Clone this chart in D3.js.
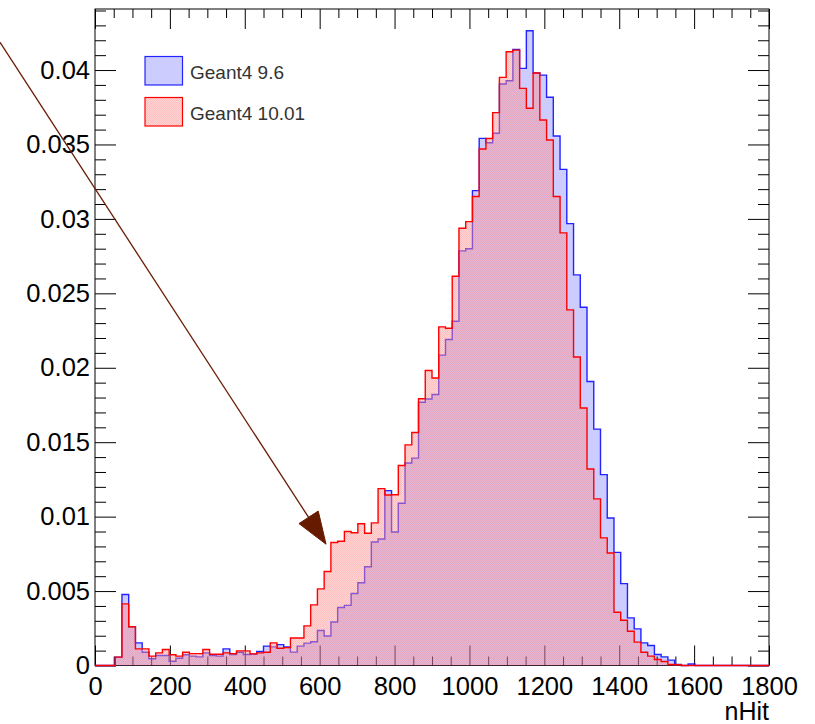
<!DOCTYPE html>
<html>
<head>
<meta charset="utf-8">
<script src="https://cdn.jsdelivr.net/npm/d3@7"></script>
<style>
  body { margin: 0; background: #fff; }
  text { font-family: "Liberation Sans", Arial, Helvetica, sans-serif; }
</style>
</head>
<body>
<svg id="chart"></svg>
<script>
// nHit histograms, 100 bins of width 18 from 0 to 1800 (normalised)
const binCount = 100
const xMin = 0
const xMax = 1800

const g4_96 = [
  0, 0, 0, 0.00056, 0.00477, 0.0026, 0.00152, 0.00089, 0.00045, 0.00067,
  0.00067, 0.00029, 0.00049, 0.00072, 0.00063, 0.00058, 0.00085, 0.00067, 0.00063, 0.00112,
  0.00074, 0.00089, 0.00074, 0.00076, 0.00094, 0.0013, 0.00125, 0.0014, 0.00125, 0.0009,
  0.0013, 0.0015, 0.0016, 0.00235, 0.00198, 0.00292, 0.0039, 0.00404, 0.00484, 0.00556,
  0.00663, 0.0083, 0.0085, 0.01175, 0.00897, 0.0109, 0.0136, 0.01393, 0.01768, 0.0179,
  0.0182, 0.02085, 0.0219, 0.02312, 0.02785, 0.028, 0.0319, 0.03541, 0.03512, 0.03575,
  0.03906, 0.03928, 0.04139, 0.04011, 0.04264, 0.0398, 0.03966, 0.03817, 0.03557, 0.03333,
  0.02968, 0.02624, 0.02407, 0.01908, 0.01588, 0.01282, 0.00991, 0.0076, 0.0055, 0.0032,
  0.00246, 0.00152, 0.00134, 0.00074, 0.00058, 0.00036, 0.00007, 0, 0.0001, 0,
  0, 0, 0, 0, 0, 0, 0, 0, 0, 0
]

const g4_1001 = [
  0, 0, 0, 0.00056, 0.00414, 0.0026, 0.00112, 0.00112, 0.00063, 0.00085,
  0.00107, 0.00072, 0.00063, 0.00089, 0.0008, 0.0008, 0.00107, 0.00076, 0.00076, 0.00085,
  0.0008, 0.00098, 0.00098, 0.00078, 0.00085, 0.00089, 0.00152, 0.00116, 0.0012, 0.00185,
  0.00185, 0.00266, 0.00407, 0.00515, 0.00631, 0.00826, 0.00835, 0.009, 0.00892, 0.00952,
  0.00888, 0.00958, 0.01188, 0.01145, 0.01147, 0.01343, 0.01482, 0.01565, 0.01792, 0.01982,
  0.01931, 0.02275, 0.02265, 0.02615, 0.02937, 0.02982, 0.0315, 0.0347, 0.0354, 0.03714,
  0.03951, 0.04123, 0.04134, 0.03877, 0.03743, 0.0398, 0.03664, 0.0353, 0.0315, 0.02906,
  0.02389, 0.02072, 0.0173, 0.0132, 0.01119, 0.00857, 0.00756, 0.00358, 0.00304, 0.0023,
  0.00157, 0.00089, 0.00063, 0.0004, 0.00027, 0.00007, 0.00005, 0, 0, 0,
  0, 0, 0, 0, 0, 0, 0, 0, 0, 0
]

const legendLabels = ['Geant4 9.6', 'Geant4 10.01']
const xTickLabels = [0, 200, 400, 600, 800, 1000, 1200, 1400, 1600, 1800]
const yTickLabels = [0, 0.005, 0.01, 0.015, 0.02, 0.025, 0.03, 0.035, 0.04]
const xTitle = 'nHit'

// arrow annotation, in data coordinates (nHit, y)
const arrowFrom = [-254, 0.04187]
const arrowTo = [617, 0.00815]

const WIDTH = 815
const HEIGHT = 724
const LEFT = 95
const RIGHT = 769
const TOP = 9
const BOTTOM = 665.5
const YMAX = 0.0441
const FONT = '"Liberation Sans", Arial, Helvetica, sans-serif'

const x = d3.scaleLinear().domain([xMin, xMax]).range([LEFT, RIGHT])
const y = d3.scaleLinear().domain([0, YMAX]).range([BOTTOM, TOP])

const svg = d3.select('#chart')
  .attr('width', WIDTH)
  .attr('height', HEIGHT)

// dithered fill like ROOT's pattern fill
const defs = svg.append('defs')
const pat = defs.append('pattern')
  .attr('id', 'dither')
  .attr('patternUnits', 'userSpaceOnUse')
  .attr('width', 2).attr('height', 2)
pat.append('rect').attr('width', 2).attr('height', 2).attr('fill', 'rgba(255,150,150,0.40)')
pat.append('rect').attr('x', 0).attr('y', 0).attr('width', 1).attr('height', 1).attr('fill', 'rgba(255,120,120,0.25)')
pat.append('rect').attr('x', 1).attr('y', 1).attr('width', 1).attr('height', 1).attr('fill', 'rgba(255,120,120,0.25)')

svg.append('rect').attr('width', WIDTH).attr('height', HEIGHT).attr('fill', '#fff')

// frame
svg.append('rect')
  .attr('x', LEFT).attr('y', TOP)
  .attr('width', RIGHT - LEFT).attr('height', BOTTOM - TOP)
  .attr('fill', 'none').attr('stroke', '#000').attr('stroke-width', 1)

// ticks (ROOT style: inside, on all four sides)
const xMinor = d3.range(xMin, xMax + 1, 50).filter(v => v % 200 !== 0)
const yMinor = d3.range(0, 45).map(i => i / 1000).filter((v, i) => i % 5 !== 0)
const noDomain = g => g.select('.domain').remove()
const fmtY = d => d === 0 ? '0' : String(+d.toFixed(3))

const axes = svg.append('g').attr('color', '#000')

axes.append('g')
  .attr('transform', `translate(0,${BOTTOM})`)
  .call(d3.axisBottom(x).tickValues(xTickLabels).tickSize(-20).tickPadding(11).tickFormat(d3.format('d')))
  .call(noDomain)
  .attr('font-size', 25.5).attr('font-family', FONT)
axes.append('g')
  .attr('transform', `translate(0,${BOTTOM})`)
  .call(d3.axisBottom(x).tickValues(xMinor).tickSize(-9).tickFormat(''))
  .call(noDomain)
axes.append('g')
  .attr('transform', `translate(0,${TOP})`)
  .call(d3.axisTop(x).tickValues(xTickLabels).tickSize(-20).tickFormat(''))
  .call(noDomain)
axes.append('g')
  .attr('transform', `translate(0,${TOP})`)
  .call(d3.axisTop(x).tickValues(xMinor).tickSize(-9).tickFormat(''))
  .call(noDomain)

axes.append('g')
  .attr('transform', `translate(${LEFT},0)`)
  .call(d3.axisLeft(y).tickValues(yTickLabels).tickSize(-21).tickPadding(5).tickFormat(fmtY))
  .call(noDomain)
  .attr('font-size', 25.5).attr('font-family', FONT)
axes.append('g')
  .attr('transform', `translate(${LEFT},0)`)
  .call(d3.axisLeft(y).tickValues(yMinor).tickSize(-11).tickFormat(''))
  .call(noDomain)
axes.append('g')
  .attr('transform', `translate(${RIGHT},0)`)
  .call(d3.axisRight(y).tickValues(yTickLabels).tickSize(-21).tickFormat(''))
  .call(noDomain)
axes.append('g')
  .attr('transform', `translate(${RIGHT},0)`)
  .call(d3.axisRight(y).tickValues(yMinor).tickSize(-11).tickFormat(''))
  .call(noDomain)

svg.append('text')
  .attr('x', RIGHT).attr('y', 720)
  .attr('text-anchor', 'end')
  .attr('font-size', 25)
  .text(xTitle)

// histograms
const edges = d3.range(binCount + 1).map(i => xMin + i * (xMax - xMin) / binCount)
function stepData(vals) {
  return vals.map((v, i) => ({ x0: edges[i], v: v }))
    .concat([{ x0: edges[binCount], v: vals[binCount - 1] }])
}
const area = d3.area().curve(d3.curveStepAfter)
  .x(d => x(d.x0)).y0(y(0)).y1(d => y(d.v))
const line = d3.line().curve(d3.curveStepAfter)
  .x(d => x(d.x0)).y(d => y(d.v))

const series = [
  { name: legendLabels[0], vals: g4_96, fill: 'rgba(0,0,255,0.2)', stroke: 'rgba(0,0,255,0.85)' },
  { name: legendLabels[1], vals: g4_1001, fill: 'url(#dither)', stroke: '#ff0000' }
]

const hist = svg.append('g').attr('class', 'hists')
for (const s of series) {
  const d = stepData(s.vals)
  hist.append('path').attr('d', area(d)).attr('fill', s.fill)
  hist.append('path').attr('d', line(d))
    .attr('fill', 'none').attr('stroke', s.stroke).attr('stroke-width', 1.4)
}

// legend
const legend = svg.append('g').attr('class', 'legend')
series.forEach((s, i) => {
  const ly = 56.5 + i * 41
  legend.append('rect')
    .attr('x', 145).attr('y', ly).attr('width', 37.5).attr('height', 28.5)
    .attr('fill', s.fill).attr('stroke', s.stroke).attr('stroke-width', 1.2)
  legend.append('text')
    .attr('x', 190).attr('y', ly + 22)
    .attr('font-size', 19).attr('fill', '#333')
    .text(s.name)
})

// arrow
const ax0 = x(arrowFrom[0]), ay0 = y(arrowFrom[1])
const ax1 = x(arrowTo[0]), ay1 = y(arrowTo[1])
const ang = Math.atan2(ay1 - ay0, ax1 - ax0)
const headLen = 32, headHalf = 11.5
const bx = ax1 - headLen * Math.cos(ang), by = ay1 - headLen * Math.sin(ang)
svg.append('line')
  .attr('x1', ax0).attr('y1', ay0).attr('x2', bx).attr('y2', by)
  .attr('stroke', '#6b1c05').attr('stroke-width', 1.3)
svg.append('path')
  .attr('d', d3.line()([
    [ax1, ay1],
    [bx - headHalf * Math.sin(ang), by + headHalf * Math.cos(ang)],
    [bx + headHalf * Math.sin(ang), by - headHalf * Math.cos(ang)]
  ]) + 'Z')
  .attr('fill', '#661a00').attr('stroke', '#661a00')
</script>
</body>
</html>
